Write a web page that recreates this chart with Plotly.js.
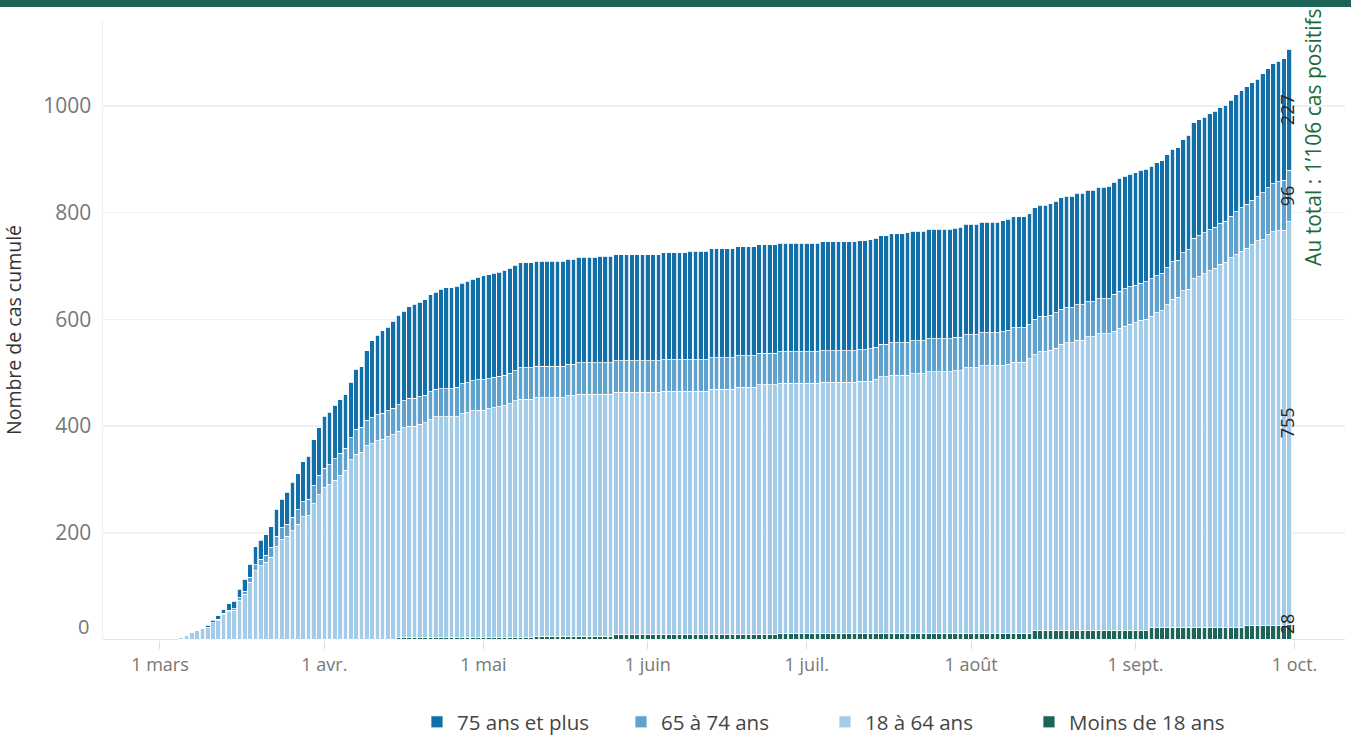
<!DOCTYPE html>
<html>
<head>
<meta charset="utf-8">
<script src="https://cdn.plot.ly/plotly-3.0.1.min.js"></script>
<style>
html,body{margin:0;padding:0;background:#fff;}
#topbar{position:absolute;left:0;top:0;width:1351px;height:7px;background:#1e6358;z-index:5;}
#chart{position:absolute;left:0;top:0;width:1351px;height:736px;}
</style>
</head>
<body>
<div id="topbar"></div>
<div id="chart"></div>
<script>
// First day of the series (one bar per day, consecutive days)
const firstDay = '2020-03-05';

// Cumulative cases per age group, Mar 5 -> Sep 30
const age75 = [
 0,0,0,0,0,4,5,6,7,12,14,16,23,24,34,36,38,39,51,54,60,66,68,75,80,86,89,
 97,99,100,100,101,104,112,113,130,144,149,155,156,163,168,168,172,176,177,179,182,182,186,189,189,189,189,190,190,192,
 195,195,195,195,197,197,197,197,197,197,197,197,197,197,197,197,197,197,197,197,197,197,199,199,199,199,199,199,199,199,199,
 199,199,199,201,201,201,201,201,204,204,204,204,204,204,204,204,204,204,204,204,204,204,204,204,204,204,204,204,204,204,
 204,204,204,204,204,204,204,204,204,204,204,204,204,204,204,204,204,204,204,205,205,205,205,205,205,205,205,205,205,207,207,
 207,207,207,207,207,207,208,208,208,208,208,208,209,209,209,209,209,209,209,209,209,209,209,209,209,209,210,210,211,211,211,
 211,211,211,211,211,211,211,211,211,212,215,216,217,217,217,217,217,217,218,219,219,220,220,220,223,223,225,226,227,227
];
const age65 = [
 0,0,0,0,0,0,0,3,3,3,3,5,5,10,11,12,13,18,19,22,23,25,27,28,31,34,37,
 37,37,41,41,41,41,47,47,48,49,49,49,49,49,50,50,52,52,52,52,52,52,53,53,53,56,56,56,56,57,
 57,57,57,57,57,57,57,59,59,59,59,59,59,59,59,59,59,59,59,59,59,59,59,59,59,59,59,59,59,59,59,
 59,59,59,59,59,59,59,59,59,59,59,59,59,59,59,59,59,59,59,59,59,59,59,59,59,59,59,59,59,59,
 59,59,59,59,59,59,59,59,59,59,59,59,61,61,61,61,61,61,61,62,62,62,62,62,62,62,62,62,62,62,62,
 62,62,62,62,62,62,64,64,64,64,64,64,66,66,66,66,66,66,66,66,66,66,66,66,66,66,66,69,70,70,70,
 70,70,70,70,70,70,70,70,70,71,74,76,77,77,77,77,77,77,78,81,81,83,83,83,88,88,90,92,94,96
];
const age18 = [
 3,7,13,17,20,23,31,35,46,52,55,73,85,107,129,138,145,154,174,187,193,204,216,230,232,254,271,
 284,290,298,308,317,337,347,351,363,367,372,375,380,384,387,394,397,397,400,403,409,414,414,414,414,414,420,422,426,427,
 427,429,431,433,435,439,444,447,447,447,447,447,447,447,447,447,451,451,454,454,454,454,454,454,454,454,454,454,454,454,454,
 454,454,454,456,456,456,456,456,456,456,456,456,460,460,460,460,460,464,464,464,464,468,468,468,468,468,468,468,468,468,
 468,468,468,470,470,470,470,470,470,470,472,472,472,475,480,480,483,483,483,483,486,486,486,490,490,490,490,490,492,492,497,
 497,497,501,501,501,501,501,504,508,508,508,514,518,523,523,526,530,537,540,540,545,545,551,551,557,557,557,562,567,571,575,
 578,582,584,584,590,594,605,616,619,632,634,654,658,663,669,674,681,685,693,699,706,707,714,721,723,733,738,740,741,755
];
const under18 = [
 0,0,0,0,0,0,0,0,0,0,0,0,0,0,0,0,0,0,0,0,0,0,0,0,0,0,0,
 0,0,0,0,0,0,0,0,0,0,0,0,0,0,3,3,3,3,3,3,3,3,3,3,3,3,3,3,3,3,
 3,3,3,3,3,3,3,3,3,3,6,6,6,6,6,6,6,6,6,6,6,6,6,6,6,9,9,9,9,9,9,
 9,9,9,9,9,9,9,9,9,9,9,9,9,9,9,9,9,9,9,9,9,9,9,9,9,12,12,12,12,12,
 12,12,12,12,12,12,12,12,12,12,12,12,12,12,12,12,12,12,12,12,12,12,12,12,12,12,12,12,12,12,12,
 12,12,12,12,12,12,12,12,12,12,12,12,16,16,16,16,16,16,16,16,16,16,16,16,16,16,16,16,16,16,16,
 16,16,16,22,22,22,22,22,22,22,22,22,22,22,22,22,22,22,22,22,22,26,26,26,26,26,26,26,26,28
];

const seriesNames = ['Moins de 18 ans', '18 à 64 ans', '65 à 74 ans', '75 ans et plus'];
const seriesColors = ['#1e6358', '#a3cce9', '#5fa2ce', '#1170aa'];
const tickDates = ['2020-03-01','2020-04-01','2020-05-01','2020-06-01','2020-07-01','2020-08-01','2020-09-01','2020-10-01'];
const tickLabels = ['1 mars','1 avr.','1 mai','1 juin','1 juil.','1 août','1 sept.','1 oct.'];
const yTicks = [200, 400, 600, 800, 1000];
const totalLabel = 'Au total : 1\u2019106 cas positifs';

// consecutive day categories
const dates = [];
{
  const d0 = new Date(firstDay + 'T00:00:00Z');
  for (let i = 0; i < age75.length; i++) {
    const d = new Date(d0.getTime() + i * 86400000);
    dates.push(d.toISOString().slice(0, 10));
  }
}

const seriesValues = [under18, age18, age65, age75];
const font = '"Open Sans", Lato, sans-serif';

const traces = seriesValues.map((vals, i) => ({
  type: 'bar',
  x: dates,
  y: vals,
  name: seriesNames[i],
  marker: {color: seriesColors[i], line: {color: '#ffffff', width: 0.8}},
  hoverinfo: 'x+y+name'
}));

// value labels on the last bar (segment middles)
const last = dates.length - 1;
const annotations = [];
let base = 0;
seriesValues.forEach((vals, i) => {
  const v = vals[last];
  annotations.push({
    x: dates[last], y: base + v / 2, xref: 'x', yref: 'y',
    text: String(v), showarrow: false, textangle: -90,
    xanchor: 'center', yanchor: 'middle',
    yshift: i === 0 ? 8 : 0, xshift: -2,
    font: {family: font, size: 18, color: '#222'}
  });
  base += v;
});
annotations.push({
  xref: 'paper', yref: 'paper', x: 0.9742, y: 0.8114,
  xanchor: 'center', yanchor: 'middle',
  text: totalLabel, showarrow: false, textangle: -90,
  font: {family: font, size: 21, color: '#1b6b3a'}
});
annotations.push({
  xref: 'paper', yref: 'y', x: 0, y: 0, xanchor: 'right', yanchor: 'middle', xshift: -12, yshift: 13,
  text: '0', showarrow: false, font: {family: font, size: 20, color: '#777'}
});

const layout = {
  width: 1351, height: 736,
  margin: {l: 103, r: 6, t: 20, b: 96.3},
  paper_bgcolor: '#ffffff', plot_bgcolor: '#ffffff',
  barmode: 'stack', bargap: 0.12,
  font: {family: font, color: '#777'},
  showlegend: true,
  legend: {
    orientation: 'h', traceorder: 'reversed',
    x: 0.2528, xanchor: 'left', y: 0.019, yref: 'container', yanchor: 'middle',
    entrywidth: 159, entrywidthmode: 'pixels',
    font: {family: font, size: 20.5, color: '#444'}
  },
  xaxis: {
    type: 'date',
    range: ['2020-02-19T06:00:00', '2020-10-10T12:30:00'],
    tickvals: tickDates, ticktext: tickLabels,
    ticks: 'outside', ticklen: 8, tickcolor: '#dcdcdc',
    tickfont: {family: font, size: 18, color: '#777'},
    showgrid: false, showline: false, zeroline: false
  },
  yaxis: {
    range: [-1, 1161],
    tickvals: yTicks,
    tickfont: {family: font, size: 21, color: '#777'},
    ticklabelstandoff: 6,
    ticks: '', showgrid: true, gridcolor: '#efefef', gridwidth: 1.5,
    zeroline: true, zerolinecolor: '#e3e3e3', zerolinewidth: 1.5,
    showline: true, linecolor: '#f0f0f0', linewidth: 1.5,
    title: {text: 'Nombre de cas cumulé', standoff: 17, font: {family: font, size: 19.5, color: '#333'}}
  },
  annotations: annotations
};

Plotly.newPlot('chart', traces, layout, {displayModeBar: false, staticPlot: true});
</script>
</body>
</html>
